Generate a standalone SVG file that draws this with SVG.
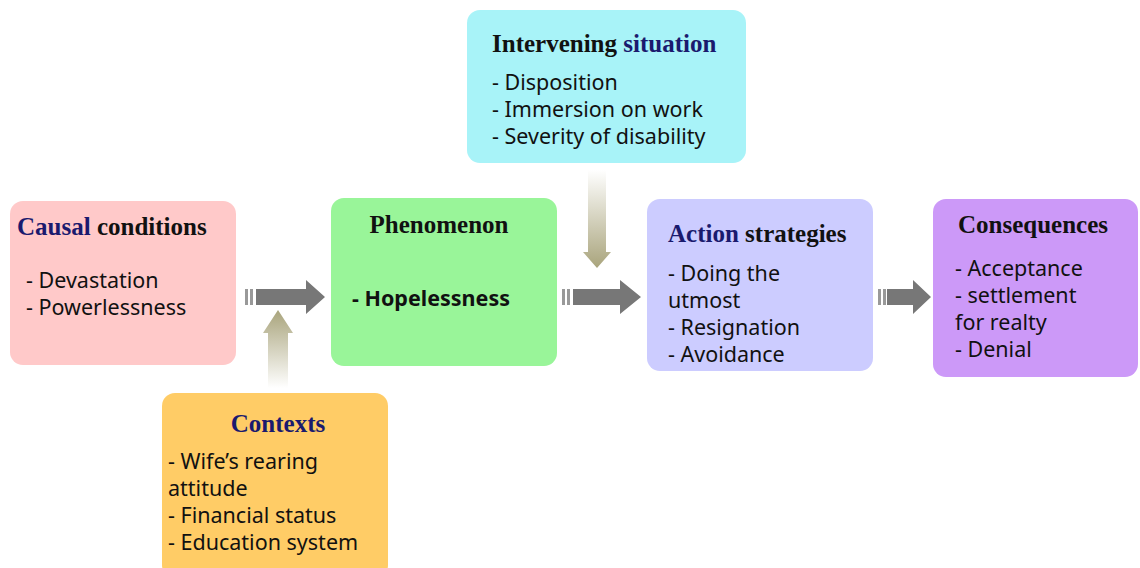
<svg xmlns="http://www.w3.org/2000/svg" width="1140" height="568" viewBox="0 0 1140 568">
<defs>
<style>
.t{font-family:"Liberation Serif","Times New Roman",serif;font-weight:bold;font-size:25px;fill:#111}
.n{fill:#1a1a6e}
.b{font-family:"Noto Sans","Open Sans",sans-serif;font-size:21.5px;fill:#111}
.box{stroke:none}
.ha{fill:#777}
.bar{fill:#999}
</style>
<linearGradient id="gUp" x1="0" y1="0" x2="0" y2="1">
<stop offset="0" stop-color="#a9a47c"/>
<stop offset="1" stop-color="#ffffff"/>
</linearGradient>
<linearGradient id="gDown" x1="0" y1="0" x2="0" y2="1">
<stop offset="0" stop-color="#ffffff"/>
<stop offset="1" stop-color="#a9a47c"/>
</linearGradient>
</defs>
<rect width="1140" height="568" fill="#fff"/>
<g id="causal">
<rect class="box" x="10" y="201" width="226" height="164" rx="13" fill="#ffc9c9"/>
<text class="t" x="17" y="235"><tspan class="n">Causal</tspan> conditions</text>
<text class="b" x="26" y="288">- Devastation</text>
<text class="b" x="26" y="315">- Powerlessness</text>
</g>
<g id="phenomenon">
<rect class="box" x="331" y="198" width="226" height="168" rx="13" fill="#99f599"/>
<text class="t" x="439" y="233" text-anchor="middle">Phenomenon</text>
<text class="b" x="352" y="306" font-weight="bold">- Hopelessness</text>
</g>
<g id="intervening">
<rect class="box" x="467" y="10" width="279" height="153" rx="13" fill="#a8f3f8"/>
<text class="t" x="492" y="52">Intervening <tspan class="n">situation</tspan></text>
<text class="b" x="492" y="90">- Disposition</text>
<text class="b" x="492" y="117">- Immersion on work</text>
<text class="b" x="492" y="144">- Severity of disability</text>
</g>
<g id="action">
<rect class="box" x="647" y="199" width="226" height="172" rx="13" fill="#ccccff"/>
<text class="t" x="668" y="242"><tspan class="n">Action</tspan> strategies</text>
<text class="b" x="668" y="281">- Doing the</text>
<text class="b" x="668" y="308">utmost</text>
<text class="b" x="668" y="335">- Resignation</text>
<text class="b" x="668" y="362">- Avoidance</text>
</g>
<g id="consequences">
<rect class="box" x="933" y="199" width="205" height="178" rx="13" fill="#cc99f8"/>
<text class="t" x="958" y="233">Consequences</text>
<text class="b" x="955" y="276">- Acceptance</text>
<text class="b" x="955" y="303">- settlement</text>
<text class="b" x="955" y="330">for realty</text>
<text class="b" x="955" y="357">- Denial</text>
</g>
<g id="contexts">
<rect class="box" x="162" y="393" width="226" height="185" rx="13" fill="#ffcc66"/>
<text class="t" x="278" y="432" text-anchor="middle"><tspan class="n">Contexts</tspan></text>
<text class="b" x="168" y="469">- Wife’s rearing</text>
<text class="b" x="168" y="496">attitude</text>
<text class="b" x="168" y="523">- Financial status</text>
<text class="b" x="168" y="550">- Education system</text>
</g>
<g id="connectors">
<rect class="bar" x="245" y="289" width="3" height="16"/>
<rect class="bar" x="250" y="289" width="3" height="16"/>
<polygon class="ha" points="256,289 306,289 306,280 325,297 306,314 306,305 256,305"/>
<rect class="bar" x="562" y="289" width="3" height="16"/>
<rect class="bar" x="567" y="289" width="3" height="16"/>
<polygon class="ha" points="573,289 620,289 620,280 641,297 620,314 620,305 573,305"/>
<rect class="bar" x="878" y="289" width="3" height="16"/>
<rect class="bar" x="883" y="289" width="3" height="16"/>
<polygon class="ha" points="887,289 913,289 913,280 931,297 913,314 913,305 887,305"/>
<polygon fill="url(#gUp)" points="268,388 268,333 263,333 278,310 293,333 288,333 288,388"/>
<polygon fill="url(#gDown)" points="588,170 606,170 606,252 611,252 597,268 583,252 588,252"/>
</g>
</svg>
